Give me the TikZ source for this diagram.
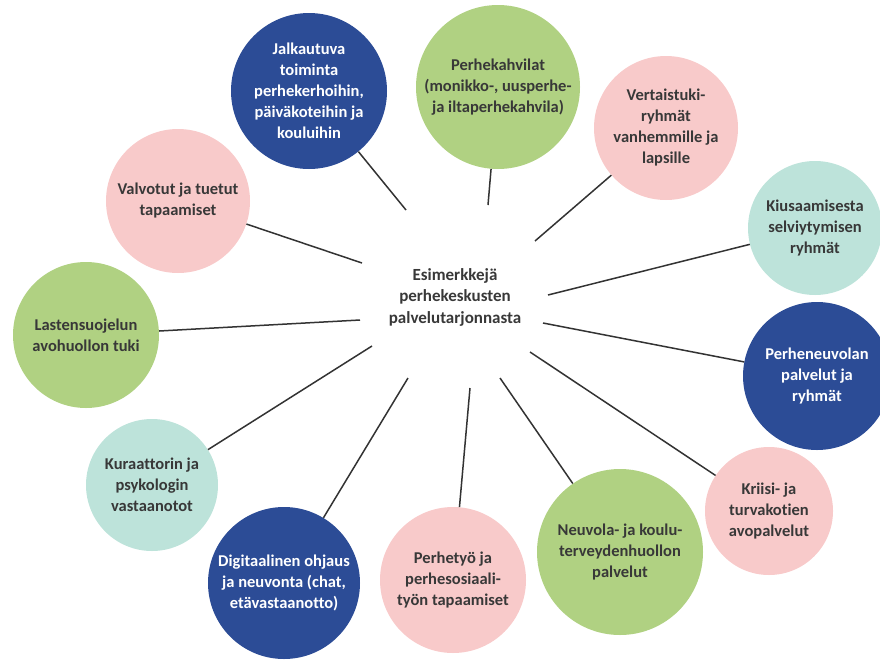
\documentclass[tikz,border=0pt]{standalone}
\usepackage{fontspec}
\setmainfont{Carlito}[BoldFont={Carlito Bold},Ligatures=NoCommon]
\definecolor{cblue}{HTML}{2C4C96}
\definecolor{cgreen}{HTML}{B0D182}
\definecolor{cpink}{HTML}{F8CACA}
\definecolor{cteal}{HTML}{BDE3DA}
\definecolor{ctext}{HTML}{383838}
\definecolor{cline}{HTML}{333333}
\begin{document}
\begin{tikzpicture}[x=1pt,y=-1pt,
  bubble/.style={circle, inner sep=0pt, align=center, text=ctext,
    font=\fontsize{16.5}{21}\selectfont\bfseries},
  bluebub/.style={bubble, fill=cblue, text=white},
  greenbub/.style={bubble, fill=cgreen},
  pinkbub/.style={bubble, fill=cpink},
  tealbub/.style={bubble, fill=cteal},
  link/.style={draw=cline, line width=1.5pt}]
\useasboundingbox (0,0) rectangle (880,659);
\node[align=center, text=ctext, font=\fontsize{17}{21.5}\selectfont\bfseries] (c) at (455,297)
  {Esimerkkejä\\perhekeskusten\\palvelutarjonnasta};
% inner ends
\coordinate (i1) at (406,210);
\coordinate (i2) at (488,205);
\coordinate (i3) at (535,241);
\coordinate (i4) at (548,295);
\coordinate (i5) at (543,323);
\coordinate (i6) at (530,352);
\coordinate (i7) at (500,378);
\coordinate (i8) at (470,388);
\coordinate (i9) at (408,378);
\coordinate (i10) at (372,346);
\coordinate (i11) at (360,320);
\coordinate (i12) at (362,263);
% bubbles
\node[bluebub, minimum size=156pt] (b1) at (309,91)
  {Jalkautuva\\toiminta\\perhekerhoihin,\\päiväkoteihin ja\\kouluihin};
\node[greenbub, minimum size=164pt] (b2) at (498,87)
  {Perhekahvilat\\(monikko-, uusperhe-\\ja iltaperhekahvila)};
\node[pinkbub, minimum size=144pt] (b3) at (666,128)
  {Vertaistuki-\\ryhmät\\vanhemmille ja\\lapsille};
\node[tealbub, minimum size=134pt] (b4) at (815,228)
  {Kiusaamisesta\\selviytymisen\\ryhmät};
\node[bluebub, minimum size=148pt] (b5) at (817,376)
  {Perheneuvolan\\palvelut ja\\ryhmät};
\node[pinkbub, minimum size=128pt] (b6) at (769,511)
  {Kriisi- ja\\turvakotien\\avopalvelut};
\node[greenbub, minimum size=166pt] (b7) at (620,552)
  {Neuvola- ja koulu-\\terveydenhuollon\\palvelut};
\node[pinkbub, minimum size=146pt] (b8) at (453,580)
  {Perhetyö ja\\perhesosiaali-\\työn tapaamiset};
\node[bluebub, minimum size=152pt] (b9) at (284,583)
  {Digitaalinen ohjaus\\ja neuvonta (chat,\\etävastaanotto)};
\node[tealbub, minimum size=132pt] (b10) at (152,485)
  {Kuraattorin ja\\psykologin\\vastaanotot};
\node[greenbub, minimum size=146pt] (b11) at (86,335)
  {Lastensuojelun\\avohuollon tuki};
\node[pinkbub, minimum size=144pt] (b12) at (178,201)
  {Valvotut ja tuetut\\tapaamiset};
% connectors
\foreach \k in {1,...,12} {\draw[link] (i\k) -- (b\k);}
\end{tikzpicture}
\end{document}
